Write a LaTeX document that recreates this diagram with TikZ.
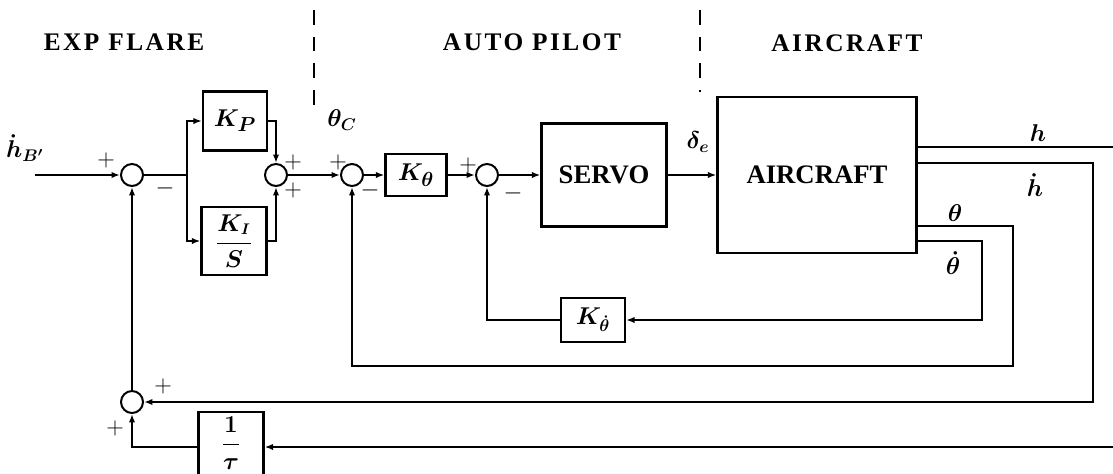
\documentclass[tikz,border=0pt]{standalone}
\usepackage{fontspec}
\setmainfont{Liberation Serif}
\newfontfamily\hdrfont[LetterSpace=10]{Liberation Serif}
\usetikzlibrary{arrows.meta}
\begin{document}
\begin{tikzpicture}[x=0.025cm,y=-0.025cm,
 ln/.style={line width=1.4pt},
 arr/.style={ln,-{Latex[length=6pt,width=4.5pt]}},
 blk/.style={draw,line width=1.6pt,inner sep=0pt,font=\fontsize{19}{21}\selectfont\boldmath},
 frc/.style={font=\fontsize{16}{18}\selectfont\boldmath},
 wrd/.style={font=\fontsize{19}{21}\selectfont\bfseries},
 sumj/.style={draw,circle,line width=1.4pt,minimum size=0.55cm,inner sep=0pt},
 lab/.style={inner sep=0pt,font=\fontsize{18}{20}\selectfont\boldmath},
 sgn/.style={inner sep=0pt,font=\fontsize{16}{18}\selectfont},
 hdr/.style={inner sep=0pt,font=\hdrfont\bfseries\fontsize{18}{20}\selectfont},
 dsh/.style={line width=1pt,dash pattern=on 10.5pt off 8.5pt}]
\useasboundingbox (0,0) rectangle (1113,474);

% headers
\node[hdr] (h1) at (124,42) {EXP FLARE};
\node[hdr] (h2) at (532,42) {AUTO PILOT};
\node[hdr] (h3) at (847,43) {AIRCRAFT};
\coordinate (d1a) at (314,10); \coordinate (d1b) at (314,105);
\coordinate (d2a) at (700,10); \coordinate (d2b) at (700,92);
\draw[dsh] (d1a) -- (d1b);
\draw[dsh] (d2a) -- (d2b);

% blocks
\node[sumj] (s1) at (132,175) {};
\node[blk,minimum width=1.6cm,minimum height=1.475cm] (kp) at (235,121) {$K_P$};
\node[blk,frc,minimum width=1.625cm,minimum height=1.7cm] (ki) at (234,241) {$\displaystyle\frac{K_I}{S}$};
\node[sumj] (s2) at (276,175) {};
\node[sumj] (s3) at (352,175) {};
\node[blk,minimum width=1.525cm,minimum height=1.05cm] (kt) at (416,175) {$K_\theta$};
\node[sumj] (s4) at (487,175) {};
\node[blk,wrd,minimum width=3.125cm,minimum height=2.575cm] (servo) at (604,175) {SERVO};
\node[blk,wrd,minimum width=4.975cm,minimum height=3.9cm] (ac) at (817,175) {AIRCRAFT};
\node[blk,font=\fontsize{18}{20}\selectfont\boldmath,minimum width=1.6cm,minimum height=1.1cm] (kd) at (593,320) {$K_{\dot\theta}$};
\node[sumj] (s5) at (132,402) {};
\node[blk,frc,minimum width=1.625cm,minimum height=1.75cm] (tau) at (231,447) {};
\node[frc,inner sep=0pt] (taut) at (231,443) {$\displaystyle\frac{1}{\tau}$};

% forward path
\coordinate (in) at (35,175);
\coordinate (br) at (187,175);
\draw[arr] (in) -- (s1);
\draw[ln] (s1) -- (br);
\draw[arr] (br) |- (kp.west);
\draw[arr] (br) |- (ki.west);
\draw[arr] (kp.east) -| (s2.north);
\draw[arr] (ki.east) -| (s2.south);
\draw[arr] (s2) -- (s3);
\draw[arr] (s3) -- (kt);
\draw[arr] (kt) -- (s4);
\draw[arr] (s4) -- (servo);
\draw[arr] (servo) -- (ac);

% outputs and feedback
\coordinate (hE) at (1113,147);
\draw[ln] (ac.east |- hE) -- (hE);
\coordinate (hdC) at (1093,163);
\coordinate (hdD) at (1093,402);
\draw[arr] (ac.east |- hdC) -- (hdC) -- (hdD) -- (s5.east);
\coordinate (thC) at (1013,226);
\coordinate (thD) at (1013,366);
\draw[arr] (ac.east |- thC) -- (thC) -- (thD) -| (s3.south);
\coordinate (tdC) at (982,241);
\draw[arr] (ac.east |- tdC) -- (tdC) |- (kd.east);
\draw[arr] (kd.west) -| (s4.south);
\draw[arr] (s5) -- (s1);
\coordinate (bE) at (1113,447);
\draw[arr] (bE) -- (tau.east);
\draw[arr] (tau.west) -| (s5.south);

% labels
\node[lab] (lin) at (25,148) {$\dot h_{B'}$};
\node[lab] (lthc) at (342,120) {$\theta_C$};
\node[lab] (lde) at (698,142) {$\delta_e$};
\node[lab] (lh) at (1038,133) {$h$};
\node[lab] (lhd) at (1035,185) {$\dot h$};
\node[lab] (lth) at (955,213) {$\theta$};
\node[lab] (ltd) at (953,263) {$\dot\theta$};

% signs
\node[sgn] (p1) at (106,160) {$+$};
\node[sgn] (m1) at (165,188) {$-$};
\node[sgn] (p2) at (293,162) {$+$};
\node[sgn] (p3) at (293,190) {$+$};
\node[sgn] (p4) at (338,162) {$+$};
\node[sgn] (m2) at (370,190) {$-$};
\node[sgn] (p5) at (468,165) {$+$};
\node[sgn] (m3) at (513,193) {$-$};
\node[sgn] (p6) at (163,386) {$+$};
\node[sgn] (p7) at (115,428) {$+$};
\end{tikzpicture}
\end{document}
